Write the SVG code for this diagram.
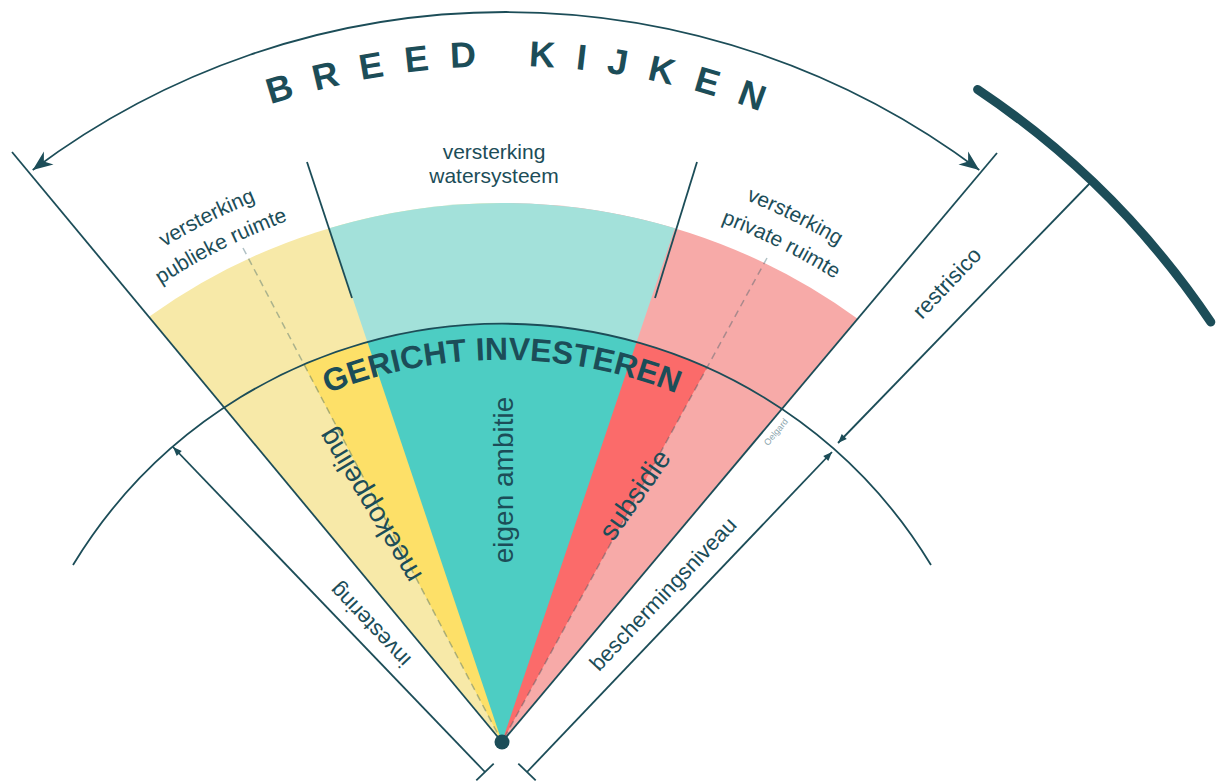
<svg xmlns="http://www.w3.org/2000/svg" width="1218" height="781" viewBox="0 0 1218 781">
  <style>
    .ln { fill: none; stroke: #1c4d58; stroke-width: 1.8; }
    .dash { fill: none; stroke: #1c4d58; stroke-opacity: 0.35; stroke-width: 1.5; stroke-dasharray: 7 5; }
    .t { font-family: "Liberation Sans", Arial, sans-serif; fill: #1c4d58; }
    .lbl { font-size: 22px; }
    .sub { font-size: 21px; }
    .big { font-size: 28px; }
    .ttl { font-weight: bold; }
  </style>
  <defs>
    <marker id="bigArrow" viewBox="-22 -10 24 20" refX="0" refY="0" markerWidth="24" markerHeight="20" markerUnits="userSpaceOnUse" orient="auto-start-reverse">
      <path d="M0,0 L-20,-8 L-14,0 L-20,8 Z" fill="#1c4d58"/>
    </marker>
    <marker id="smallArrow" viewBox="-11 -5 12 10" refX="0" refY="0" markerWidth="12" markerHeight="10" markerUnits="userSpaceOnUse" orient="auto">
      <path d="M0,0 L-9,-3.5 L-9,3.5 Z" fill="#1c4d58"/>
    </marker>
    <path id="pBreed" d="M-129.7,433 A734,734 0 0 1 1141.7,433"/>
    <path id="pGericht" d="M97.7,592 A468,468 0 0 1 906.3,592"/>
    <path id="pL1" d="M26.8,357.8 A654,654 0 0 1 426.9,157.3"/>
    <path id="pL2" d="M48.6,378.2 A624,624 0 0 1 430.3,187.1"/>
    <path id="pR1" d="M574.9,157 A654,654 0 0 1 975.6,356"/>
    <path id="pR2" d="M571.6,186.9 A624,624 0 0 1 953.9,376.7"/>
  </defs>

  <!-- light outer sectors -->
  <g id="light-sectors">
    <path id="sector-publiek" d="M502,742 L149,316.8 A604,604 0 0 1 502,203 Z" fill="#f7e9a8"/>
    <path id="sector-privaat" d="M502,742 L502,203 A604,604 0 0 1 857.6,318.8 Z" fill="#f7aaa8"/>
    <path id="sector-water" d="M502,742 L329.1,228.2 A604,604 0 0 1 674.9,228.2 Z" fill="#a3e1da"/>
  </g>

  <!-- bright inner sectors -->
  <g id="bright-sectors">
    <path id="sector-meekoppeling" d="M502,742 L303.9,364.7 A502,502 0 0 1 429.2,329.3 Z" fill="#fde068"/>
    <path id="sector-subsidie" d="M502,742 L574.8,329.3 A502,502 0 0 1 706.9,367.7 Z" fill="#fb6b6a"/>
    <path id="sector-eigen" d="M502,742 L367.5,342.3 A502,502 0 0 1 636.5,342.3 Z" fill="#4dcdc3"/>
  </g>

  <g id="connectors">
    <line class="dash" x1="243" y1="248" x2="502" y2="742"/>
    <line class="dash" x1="767" y1="258" x2="502" y2="742"/>
    <!-- fan edges -->
    <line class="ln" x1="12" y1="152" x2="502" y2="742"/>
    <line class="ln" x1="997" y1="153" x2="502" y2="742"/>
    <!-- dividers -->
    <line class="ln" x1="307" y1="162" x2="352" y2="298"/>
    <line class="ln" x1="697" y1="162" x2="655" y2="298"/>
    <!-- breed kijken arc -->
    <path class="ln" d="M32.7,170 A788,788 0 0 1 979.3,170" stroke-width="2" marker-start="url(#bigArrow)" marker-end="url(#bigArrow)"/>
    <!-- gericht investeren arc -->
    <path class="ln" d="M73,565 A502,502 0 0 1 931,565"/>
    <!-- thick outer arc -->
    <path d="M977.6,89.5 A855,855 0 0 1 1210.8,322" fill="none" stroke="#1c4d58" stroke-width="9" stroke-linecap="round"/>
    <!-- dimension lines -->
    <line class="ln" x1="485" y1="772" x2="173" y2="447" marker-end="url(#smallArrow)"/>
    <line class="ln" x1="476.3" y1="780.3" x2="493.7" y2="763.7"/>
    <line class="ln" x1="527" y1="772" x2="832" y2="452" marker-end="url(#smallArrow)"/>
    <line class="ln" x1="518.3" y1="763.7" x2="535.7" y2="780.3"/>
    <line class="ln" x1="1092" y1="181" x2="838" y2="443" marker-end="url(#smallArrow)"/>
  </g>

  <g id="apex">
    <circle cx="502" cy="742" r="7.5" fill="#1c4d58"/>
  </g>

  <g id="title-breed">
    <text class="t ttl" font-size="36" letter-spacing="21" text-anchor="middle"><textPath href="#pBreed" startOffset="789">BREED KIJKEN</textPath></text>
  </g>
  <g id="title-gericht">
    <text class="t ttl" font-size="32" text-anchor="middle"><textPath href="#pGericht" startOffset="50%">GERICHT INVESTEREN</textPath></text>
  </g>

  <g id="label-water">
    <text class="t sub" x="494" y="159" text-anchor="middle">versterking</text>
    <text class="t sub" x="494" y="183" text-anchor="middle">watersysteem</text>
  </g>
  <g id="label-publiek">
    <text class="t sub" text-anchor="middle"><textPath href="#pL1" startOffset="50%">versterking</textPath></text>
    <text class="t sub" text-anchor="middle"><textPath href="#pL2" startOffset="50%">publieke ruimte</textPath></text>
  </g>
  <g id="label-privaat">
    <text class="t sub" text-anchor="middle"><textPath href="#pR1" startOffset="50%">versterking</textPath></text>
    <text class="t sub" text-anchor="middle"><textPath href="#pR2" startOffset="50%">private ruimte</textPath></text>
  </g>

  <g id="label-eigen">
    <text class="t big" text-anchor="middle" transform="translate(505,480) rotate(-90)" y="8">eigen ambitie</text>
  </g>
  <g id="label-meekoppeling">
    <text class="t big" text-anchor="middle" transform="translate(371,505) rotate(-121)" y="8">meekoppeling</text>
  </g>
  <g id="label-subsidie">
    <text class="t big" text-anchor="middle" transform="translate(635,495) rotate(-55)" y="9">subsidie</text>
  </g>
  <g id="label-investering">
    <text class="t lbl" text-anchor="middle" transform="translate(371,624) rotate(-133.5)" y="6">investering</text>
  </g>
  <g id="label-bescherming">
    <text class="t lbl" text-anchor="middle" transform="translate(664,595) rotate(-46.5)" y="6">beschermingsniveau</text>
  </g>
  <g id="label-restrisico">
    <text class="t lbl" text-anchor="middle" transform="translate(948,284) rotate(-46.5)" y="6">restrisico</text>
  </g>
  <g id="credit">
    <text class="t" font-size="9" style="fill:#8aa4ad" text-anchor="middle" transform="translate(776,432) rotate(-50)" y="3">Oelgard</text>
  </g>
</svg>
